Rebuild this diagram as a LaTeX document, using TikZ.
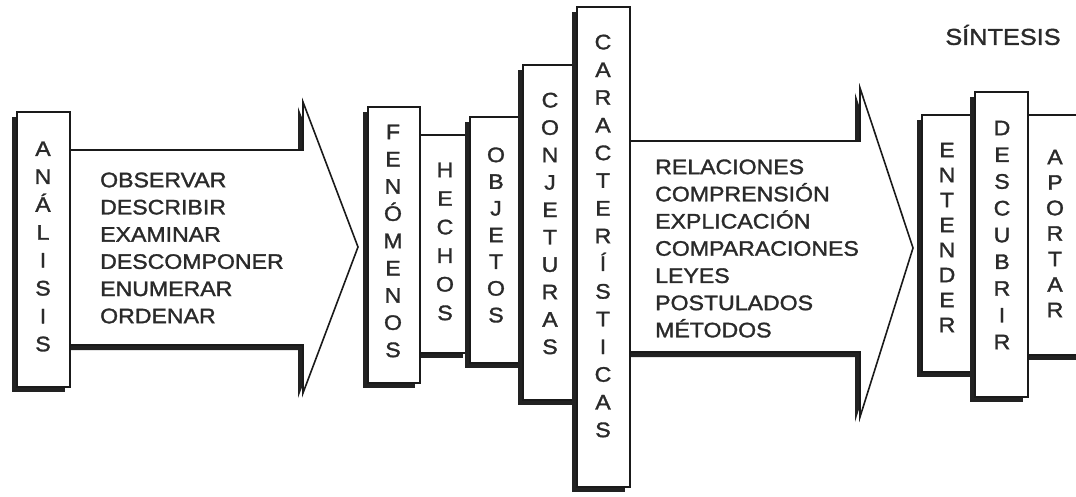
\documentclass[tikz,border=0pt]{standalone}
\usepackage{fontspec}
\setmainfont{Liberation Sans}
\newfontfamily\diagfont[FakeStretch=1.1,FakeBold=1.5]{Liberation Sans}
\usetikzlibrary{shadows}
\definecolor{linec}{HTML}{1A1A1A}
\definecolor{shc}{HTML}{222222}
\definecolor{txt}{HTML}{2A2A2A}
\newcommand\lfont{\diagfont\fontsize{21}{27.2}\selectfont}
\newcommand\vfont[1]{\diagfont\fontsize{21}{#1}\selectfont}
\tikzset{
  sh/.style={general shadow={fill=shc, shadow xshift=-5pt, shadow yshift=-5pt}},
  vbox/.style={draw=linec, line width=1.7pt, fill=white, inner sep=0pt, sh},
  vword/.style={align=center, inner sep=0pt, text=txt, font=\vfont{#1}},
  vword/.default=27.5,
  listtxt/.style={align=left, anchor=west, inner sep=0pt, text=txt, font=\lfont},
  arrowshape/.style={draw=linec, line width=1.6pt, fill=white, line join=miter, sh},
}
\begin{document}
\begin{tikzpicture}[x=1pt,y=-1pt]
\useasboundingbox (0,0) rectangle (1076,497);
\clip (0,0) rectangle (1076,497);
% arrow 1
\draw[arrowshape] (60,150) -- (303,150) -- (303,102) -- (358,247) -- (303,393) -- (303,345) -- (60,345) -- cycle;
\node[vbox, minimum width=53pt, minimum height=275pt] (analisis) at (43.5,249.5) {};
\node[vword=27.9] (tanalisis) at (43,246.5) {A\\N\\Á\\L\\I\\S\\I\\S};
\node[listtxt] (lista1) at (100,248) {OBSERVAR\\DESCRIBIR\\EXAMINAR\\DESCOMPONER\\ENUMERAR\\ORDENAR};
% middle group
\node[vbox, minimum width=48pt, minimum height=218pt] (hechos) at (444,244) {};
\node[vbox, minimum width=52pt, minimum height=276pt] (fenomenos) at (394,245) {};
\node[vbox, minimum width=53pt, minimum height=246pt] (objetos) at (496.5,240) {};
\node[vbox, minimum width=54pt, minimum height=335pt] (conjeturas) at (550,232.5) {};
% arrow 2
\draw[arrowshape] (620,141) -- (860,141) -- (860,88) -- (913,248) -- (860,417) -- (860,352) -- (620,352) -- cycle;
\node[vbox, minimum width=53pt, minimum height=480pt] (caract) at (603.5,247) {};
\node[vword=27.25] (tfenomenos) at (393,241) {F\\E\\N\\Ó\\M\\E\\N\\O\\S};
\node[vword=28.6] (thechos) at (445,241.5) {H\\E\\C\\H\\O\\S};
\node[vword=26.7] (tobjetos) at (496,235) {O\\B\\J\\E\\T\\O\\S};
\node[vword=27.4] (tconjeturas) at (550,223.5) {C\\O\\N\\J\\E\\T\\U\\R\\A\\S};
\node[vword=27.7] (tcaract) at (603,236) {C\\A\\R\\A\\C\\T\\E\\R\\Í\\S\\T\\I\\C\\A\\S};
\node[listtxt] (lista2) at (655,248.5) {RELACIONES\\COMPRENSIÓN\\EXPLICACIÓN\\COMPARACIONES\\LEYES\\POSTULADOS\\MÉTODOS};
% right group
\node[vbox, minimum width=72pt, minimum height=240pt] (aportar) at (1064,235) {};
\node[vbox, minimum width=53pt, minimum height=257pt] (entender) at (948.5,243.5) {};
\node[vbox, minimum width=53pt, minimum height=305pt] (descubrir) at (1001.5,244.5) {};
\node[vword=25] (tentender) at (947,237.5) {E\\N\\T\\E\\N\\D\\E\\R};
\node[vword=26.75] (tdescubrir) at (1002,235) {D\\E\\S\\C\\U\\B\\R\\I\\R};
\node[vword=25.5] (taportar) at (1055,233.5) {A\\P\\O\\R\\T\\A\\R};
\node[text=txt, font={\diagfont\fontsize{23}{27}\selectfont}, inner sep=0pt] (sintesis) at (1003,35) {SÍNTESIS};
\end{tikzpicture}
\end{document}
